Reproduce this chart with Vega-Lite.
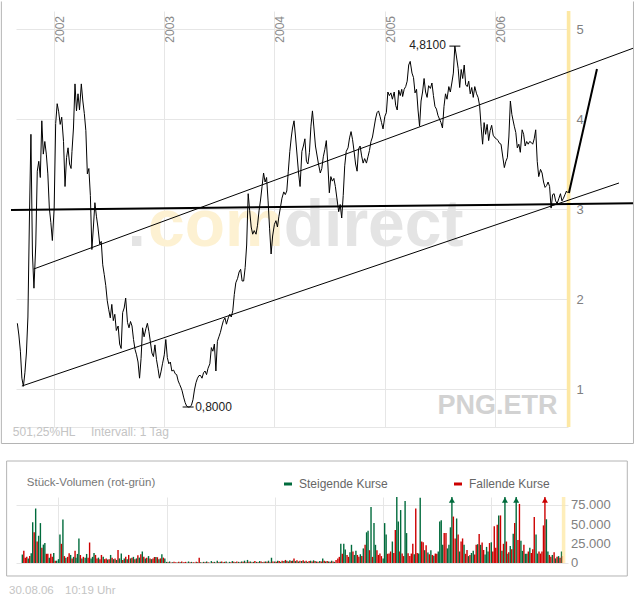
{
"$schema":"https://vega.github.io/schema/vega-lite/v6.json",
"padding":0,
"background":"#ffffff",
"config":{"font":"Liberation Sans","view":{"stroke":null},
"axis":{"gridColor":"#e6e6e6","gridWidth":1,"domain":false,"ticks":false,"title":null,"labelFont":"Liberation Sans","labelColor":"#808080","labelFontSize":13}},
"datasets":{"main":[
{"d":"2001-09-01","p":1.73,"v":11000,"s":"u"},{"d":"2001-09-06","p":1.6,"v":15800,"s":"d"},{"d":"2001-09-11","p":1.42,"v":7000,"s":"d"},{"d":"2001-09-16","p":1.12,"v":8000,"s":"d"},{"d":"2001-09-21","p":1.03,"v":6000,"s":"u"},{"d":"2001-09-26","p":1.18,"v":9000,"s":"d"},
{"d":"2001-10-01","p":1.4,"v":12700,"s":"u"},{"d":"2001-10-06","p":1.8,"v":53000,"s":"u"},{"d":"2001-10-11","p":2.9,"v":40000,"s":"d"},{"d":"2001-10-16","p":3.83,"v":71000,"s":"u"},{"d":"2001-10-21","p":2.5,"v":28000,"s":"d"},{"d":"2001-10-26","p":2.12,"v":35500,"s":"u"},
{"d":"2001-11-01","p":2.6,"v":52000,"s":"u"},{"d":"2001-11-06","p":3.42,"v":20000,"s":"d"},{"d":"2001-11-11","p":3.53,"v":24000,"s":"u"},{"d":"2001-11-16","p":3.35,"v":26000,"s":"u"},{"d":"2001-11-21","p":3.98,"v":12000,"s":"d"},{"d":"2001-11-26","p":3.61,"v":12000,"s":"d"},
{"d":"2001-12-01","p":3.75,"v":7000,"s":"u"},{"d":"2001-12-06","p":3.61,"v":12000,"s":"d"},{"d":"2001-12-11","p":3.39,"v":8000,"s":"d"},{"d":"2001-12-16","p":3.01,"v":13000,"s":"u"},{"d":"2001-12-21","p":2.85,"v":3000,"s":"d"},{"d":"2001-12-26","p":2.65,"v":3000,"s":"u"},
{"d":"2002-01-01","p":3.01,"v":5000,"s":"u"},{"d":"2002-01-06","p":3.95,"v":37000,"s":"u"},{"d":"2002-01-11","p":4.17,"v":25000,"s":"d"},{"d":"2002-01-16","p":4.08,"v":56600,"s":"u"},{"d":"2002-01-21","p":3.94,"v":9000,"s":"d"},{"d":"2002-01-26","p":4.02,"v":7000,"s":"u"},
{"d":"2002-02-01","p":3.75,"v":8000,"s":"d"},{"d":"2002-02-06","p":3.25,"v":12800,"s":"d"},{"d":"2002-02-11","p":3.57,"v":10500,"s":"u"},{"d":"2002-02-16","p":3.68,"v":6000,"s":"d"},{"d":"2002-02-21","p":3.5,"v":8000,"s":"u"},{"d":"2002-02-26","p":3.45,"v":15800,"s":"d"},
{"d":"2002-03-01","p":3.64,"v":7000,"s":"u"},{"d":"2002-03-06","p":3.9,"v":11800,"s":"u"},{"d":"2002-03-11","p":4.39,"v":32000,"s":"u"},{"d":"2002-03-16","p":4.09,"v":10500,"s":"d"},{"d":"2002-03-21","p":4.28,"v":6000,"s":"u"},{"d":"2002-03-26","p":4.1,"v":8000,"s":"d"},
{"d":"2002-04-01","p":4.39,"v":7000,"s":"u"},{"d":"2002-04-06","p":4.2,"v":11800,"s":"u"},{"d":"2002-04-11","p":4.06,"v":7000,"s":"d"},{"d":"2002-04-16","p":3.87,"v":26700,"s":"d"},{"d":"2002-04-21","p":3.39,"v":6000,"s":"u"},{"d":"2002-04-26","p":3.45,"v":8000,"s":"u"},
{"d":"2002-05-01","p":3.15,"v":13000,"s":"u"},{"d":"2002-05-06","p":2.55,"v":10500,"s":"d"},{"d":"2002-05-11","p":2.8,"v":6000,"s":"d"},{"d":"2002-05-16","p":3.07,"v":7000,"s":"u"},{"d":"2002-05-21","p":2.92,"v":5000,"s":"d"},{"d":"2002-05-26","p":2.8,"v":10500,"s":"d"},
{"d":"2002-06-01","p":2.61,"v":8300,"s":"u"},{"d":"2002-06-06","p":2.64,"v":5000,"s":"d"},{"d":"2002-06-11","p":2.38,"v":6000,"s":"d"},{"d":"2002-06-16","p":2.27,"v":4500,"s":"u"},{"d":"2002-06-21","p":2.15,"v":5000,"s":"d"},{"d":"2002-06-26","p":1.98,"v":10500,"s":"u"},
{"d":"2002-07-01","p":1.88,"v":7000,"s":"d"},{"d":"2002-07-06","p":1.79,"v":5000,"s":"u"},{"d":"2002-07-11","p":1.94,"v":6000,"s":"d"},{"d":"2002-07-16","p":1.76,"v":4000,"s":"u"},{"d":"2002-07-21","p":1.83,"v":17000,"s":"d"},{"d":"2002-07-26","p":1.65,"v":6000,"s":"u"},
{"d":"2002-08-01","p":1.7,"v":12300,"s":"u"},{"d":"2002-08-06","p":1.5,"v":4000,"s":"d"},{"d":"2002-08-11","p":1.45,"v":6000,"s":"u"},{"d":"2002-08-16","p":1.85,"v":8000,"s":"d"},{"d":"2002-08-21","p":1.9,"v":5000,"s":"u"},{"d":"2002-08-26","p":2.01,"v":10500,"s":"d"},
{"d":"2002-09-01","p":1.74,"v":6000,"s":"u"},{"d":"2002-09-06","p":1.68,"v":7000,"s":"d"},{"d":"2002-09-11","p":1.75,"v":8000,"s":"u"},{"d":"2002-09-16","p":1.7,"v":5000,"s":"d"},{"d":"2002-09-21","p":1.55,"v":6000,"s":"u"},{"d":"2002-09-26","p":1.44,"v":10000,"s":"d"},
{"d":"2002-10-01","p":1.38,"v":7000,"s":"u"},{"d":"2002-10-06","p":1.3,"v":11400,"s":"d"},{"d":"2002-10-11","p":1.12,"v":15000,"s":"u"},{"d":"2002-10-16","p":1.34,"v":8000,"s":"d"},{"d":"2002-10-21","p":1.68,"v":6000,"s":"u"},{"d":"2002-10-26","p":1.58,"v":7000,"s":"d"},
{"d":"2002-11-01","p":1.67,"v":9000,"s":"u"},{"d":"2002-11-06","p":1.73,"v":6000,"s":"d"},{"d":"2002-11-11","p":1.64,"v":5000,"s":"u"},{"d":"2002-11-16","p":1.52,"v":6000,"s":"d"},{"d":"2002-11-21","p":1.4,"v":7800,"s":"d"},{"d":"2002-11-26","p":1.36,"v":7800,"s":"u"},
{"d":"2002-12-01","p":1.49,"v":7500,"s":"d"},{"d":"2002-12-06","p":1.33,"v":5000,"s":"u"},{"d":"2002-12-11","p":1.23,"v":6000,"s":"d"},{"d":"2002-12-16","p":1.12,"v":11400,"s":"u"},{"d":"2002-12-21","p":1.19,"v":7000,"s":"d"},{"d":"2002-12-26","p":1.28,"v":6000,"s":"u"},
{"d":"2003-01-01","p":1.38,"v":1500,"s":"u"},{"d":"2003-01-06","p":1.55,"v":1000,"s":"d"},{"d":"2003-01-11","p":1.35,"v":2000,"s":"u"},{"d":"2003-01-16","p":1.28,"v":500,"s":"d"},{"d":"2003-01-21","p":1.3,"v":1000,"s":"u"},{"d":"2003-01-26","p":1.2,"v":1500,"s":"d"},
{"d":"2003-02-01","p":1.21,"v":1000,"s":"d"},{"d":"2003-02-06","p":1.17,"v":500,"s":"u"},{"d":"2003-02-11","p":1.16,"v":1500,"s":"d"},{"d":"2003-02-16","p":1.09,"v":1000,"s":"u"},{"d":"2003-02-21","p":1.05,"v":2000,"s":"d"},{"d":"2003-02-26","p":1.01,"v":500,"s":"u"},
{"d":"2003-03-01","p":0.98,"v":1000,"s":"d"},{"d":"2003-03-06","p":0.91,"v":1500,"s":"d"},{"d":"2003-03-11","p":0.85,"v":500,"s":"u"},{"d":"2003-03-16","p":0.81,"v":2000,"s":"u"},{"d":"2003-03-21","p":0.8,"v":1000,"s":"d"},{"d":"2003-03-26","p":0.8,"v":1500,"s":"u"},
{"d":"2003-04-01","p":0.82,"v":1000,"s":"d"},{"d":"2003-04-06","p":0.88,"v":500,"s":"u"},{"d":"2003-04-11","p":0.99,"v":1500,"s":"d"},{"d":"2003-04-16","p":1.07,"v":1000,"s":"u"},{"d":"2003-04-21","p":1.12,"v":7000,"s":"d"},{"d":"2003-04-26","p":1.15,"v":1000,"s":"u"},
{"d":"2003-05-01","p":1.15,"v":500,"s":"d"},{"d":"2003-05-06","p":1.12,"v":1500,"s":"u"},{"d":"2003-05-11","p":1.18,"v":1000,"s":"d"},{"d":"2003-05-16","p":1.2,"v":2000,"s":"u"},{"d":"2003-05-21","p":1.16,"v":1000,"s":"d"},{"d":"2003-05-26","p":1.23,"v":500,"s":"u"},
{"d":"2003-06-01","p":1.28,"v":2500,"s":"u"},{"d":"2003-06-06","p":1.46,"v":1000,"s":"d"},{"d":"2003-06-11","p":1.42,"v":1500,"s":"u"},{"d":"2003-06-16","p":1.5,"v":500,"s":"d"},{"d":"2003-06-21","p":1.2,"v":3000,"s":"u"},{"d":"2003-06-26","p":1.53,"v":1000,"s":"d"},
{"d":"2003-07-01","p":1.58,"v":1500,"s":"u"},{"d":"2003-07-06","p":1.63,"v":2000,"s":"d"},{"d":"2003-07-11","p":1.7,"v":1000,"s":"u"},{"d":"2003-07-16","p":1.76,"v":1500,"s":"d"},{"d":"2003-07-21","p":1.79,"v":2000,"s":"u"},{"d":"2003-07-26","p":1.72,"v":500,"s":"d"},
{"d":"2003-08-01","p":1.79,"v":1500,"s":"u"},{"d":"2003-08-06","p":1.83,"v":1000,"s":"d"},{"d":"2003-08-11","p":1.8,"v":2500,"s":"u"},{"d":"2003-08-16","p":1.87,"v":1500,"s":"d"},{"d":"2003-08-21","p":2.05,"v":1000,"s":"u"},{"d":"2003-08-26","p":2.18,"v":2000,"s":"d"},
{"d":"2003-09-01","p":2.23,"v":1500,"s":"u"},{"d":"2003-09-06","p":2.3,"v":1000,"s":"d"},{"d":"2003-09-11","p":2.33,"v":2000,"s":"u"},{"d":"2003-09-16","p":2.2,"v":1500,"s":"d"},{"d":"2003-09-21","p":2.2,"v":3000,"s":"u"},{"d":"2003-09-26","p":2.35,"v":1000,"s":"d"},
{"d":"2003-10-01","p":2.6,"v":4000,"s":"u"},{"d":"2003-10-06","p":3.17,"v":1500,"s":"d"},{"d":"2003-10-11","p":2.98,"v":2000,"s":"u"},{"d":"2003-10-16","p":2.8,"v":1000,"s":"d"},{"d":"2003-10-21","p":2.72,"v":1500,"s":"u"},{"d":"2003-10-26","p":2.76,"v":2500,"s":"d"},
{"d":"2003-11-01","p":2.72,"v":1500,"s":"u"},{"d":"2003-11-06","p":2.82,"v":1000,"s":"d"},{"d":"2003-11-11","p":2.98,"v":2500,"s":"u"},{"d":"2003-11-16","p":3.1,"v":2000,"s":"d"},{"d":"2003-11-21","p":3.25,"v":1000,"s":"u"},{"d":"2003-11-26","p":3.4,"v":1500,"s":"d"},
{"d":"2003-12-01","p":3.3,"v":2000,"s":"u"},{"d":"2003-12-06","p":3.35,"v":1500,"s":"d"},{"d":"2003-12-11","p":3.09,"v":3000,"s":"u"},{"d":"2003-12-16","p":2.78,"v":1000,"s":"d"},{"d":"2003-12-21","p":2.5,"v":7000,"s":"u"},{"d":"2003-12-26","p":2.7,"v":2000,"s":"d"},
{"d":"2004-01-01","p":2.83,"v":2000,"s":"u"},{"d":"2004-01-06","p":2.87,"v":1500,"s":"d"},{"d":"2004-01-11","p":2.8,"v":3000,"s":"u"},{"d":"2004-01-16","p":2.92,"v":2500,"s":"d"},{"d":"2004-01-21","p":3.02,"v":1500,"s":"u"},{"d":"2004-01-26","p":3.12,"v":3000,"s":"d"},
{"d":"2004-02-01","p":3.19,"v":2500,"s":"u"},{"d":"2004-02-06","p":3.16,"v":4000,"s":"d"},{"d":"2004-02-11","p":3.2,"v":3000,"s":"u"},{"d":"2004-02-16","p":3.42,"v":2000,"s":"d"},{"d":"2004-02-21","p":3.64,"v":3500,"s":"u"},{"d":"2004-02-26","p":3.8,"v":2500,"s":"d"},
{"d":"2004-03-01","p":3.9,"v":3000,"s":"u"},{"d":"2004-03-06","p":3.98,"v":6000,"s":"d"},{"d":"2004-03-11","p":3.8,"v":2500,"s":"u"},{"d":"2004-03-16","p":3.6,"v":3500,"s":"d"},{"d":"2004-03-21","p":3.4,"v":2000,"s":"u"},{"d":"2004-03-26","p":3.25,"v":3000,"s":"d"},
{"d":"2004-04-01","p":3.64,"v":2500,"s":"u"},{"d":"2004-04-06","p":3.7,"v":3500,"s":"d"},{"d":"2004-04-11","p":3.78,"v":2000,"s":"u"},{"d":"2004-04-16","p":3.53,"v":3000,"s":"d"},{"d":"2004-04-21","p":3.5,"v":1500,"s":"u"},{"d":"2004-04-26","p":3.63,"v":2500,"s":"d"},
{"d":"2004-05-01","p":3.92,"v":3000,"s":"u"},{"d":"2004-05-06","p":4.09,"v":2000,"s":"d"},{"d":"2004-05-11","p":3.9,"v":3500,"s":"u"},{"d":"2004-05-16","p":3.7,"v":2500,"s":"d"},{"d":"2004-05-21","p":3.6,"v":2000,"s":"u"},{"d":"2004-05-26","p":3.5,"v":1500,"s":"d"},
{"d":"2004-06-01","p":3.4,"v":2500,"s":"u"},{"d":"2004-06-06","p":3.45,"v":2000,"s":"d"},{"d":"2004-06-11","p":3.58,"v":6000,"s":"u"},{"d":"2004-06-16","p":3.66,"v":3000,"s":"d"},{"d":"2004-06-21","p":3.76,"v":2000,"s":"u"},{"d":"2004-06-26","p":3.5,"v":2500,"s":"d"},
{"d":"2004-07-01","p":3.18,"v":2000,"s":"u"},{"d":"2004-07-06","p":3.36,"v":1500,"s":"d"},{"d":"2004-07-11","p":3.31,"v":3000,"s":"u"},{"d":"2004-07-16","p":3.34,"v":2000,"s":"d"},{"d":"2004-07-21","p":3.25,"v":1500,"s":"u"},{"d":"2004-07-26","p":3.12,"v":4000,"s":"d"},
{"d":"2004-08-01","p":2.97,"v":6000,"s":"d"},{"d":"2004-08-06","p":3.05,"v":8000,"s":"d"},{"d":"2004-08-11","p":2.9,"v":25000,"s":"u"},{"d":"2004-08-16","p":3.15,"v":12000,"s":"d"},{"d":"2004-08-21","p":3.48,"v":25000,"s":"u"},{"d":"2004-08-26","p":3.64,"v":17500,"s":"u"},
{"d":"2004-09-01","p":3.68,"v":10500,"s":"d"},{"d":"2004-09-06","p":3.79,"v":8000,"s":"d"},{"d":"2004-09-11","p":3.86,"v":14000,"s":"u"},{"d":"2004-09-16","p":3.77,"v":23700,"s":"u"},{"d":"2004-09-21","p":3.64,"v":15000,"s":"d"},{"d":"2004-09-26","p":3.5,"v":10500,"s":"u"},
{"d":"2004-10-01","p":3.42,"v":15800,"s":"u"},{"d":"2004-10-06","p":3.67,"v":10500,"s":"d"},{"d":"2004-10-11","p":3.7,"v":8000,"s":"d"},{"d":"2004-10-16","p":3.59,"v":11400,"s":"u"},{"d":"2004-10-21","p":3.51,"v":9000,"s":"d"},{"d":"2004-10-26","p":3.56,"v":19000,"s":"u"},
{"d":"2004-11-01","p":3.51,"v":23700,"s":"d"},{"d":"2004-11-06","p":3.58,"v":40000,"s":"u"},{"d":"2004-11-11","p":3.65,"v":42000,"s":"u"},{"d":"2004-11-16","p":3.75,"v":16700,"s":"d"},{"d":"2004-11-21","p":3.8,"v":73000,"s":"u"},{"d":"2004-11-26","p":3.9,"v":8000,"s":"d"},
{"d":"2004-12-01","p":4.0,"v":52000,"s":"u"},{"d":"2004-12-06","p":4.07,"v":23700,"s":"u"},{"d":"2004-12-11","p":4.09,"v":16700,"s":"d"},{"d":"2004-12-16","p":4.03,"v":10500,"s":"d"},{"d":"2004-12-21","p":3.96,"v":12300,"s":"d"},{"d":"2004-12-26","p":3.89,"v":9000,"s":"d"},
{"d":"2005-01-01","p":4.03,"v":6000,"s":"u"},{"d":"2005-01-06","p":4.07,"v":52000,"s":"u"},{"d":"2005-01-11","p":4.3,"v":37000,"s":"u"},{"d":"2005-01-16","p":4.26,"v":12000,"s":"d"},{"d":"2005-01-21","p":4.29,"v":12300,"s":"d"},{"d":"2005-01-26","p":4.22,"v":15000,"s":"d"},
{"d":"2005-02-01","p":4.3,"v":28000,"s":"u"},{"d":"2005-02-06","p":4.15,"v":13000,"s":"d"},{"d":"2005-02-11","p":4.1,"v":43000,"s":"d"},{"d":"2005-02-16","p":4.32,"v":86000,"s":"u"},{"d":"2005-02-21","p":4.26,"v":54000,"s":"u"},{"d":"2005-02-26","p":4.33,"v":15000,"s":"d"},
{"d":"2005-03-01","p":4.25,"v":69000,"s":"u"},{"d":"2005-03-06","p":4.33,"v":12300,"s":"d"},{"d":"2005-03-11","p":4.36,"v":9000,"s":"d"},{"d":"2005-03-16","p":4.42,"v":80700,"s":"u"},{"d":"2005-03-21","p":4.6,"v":39000,"s":"u"},{"d":"2005-03-26","p":4.64,"v":12700,"s":"d"},
{"d":"2005-04-01","p":4.51,"v":9000,"s":"d"},{"d":"2005-04-06","p":4.46,"v":12300,"s":"d"},{"d":"2005-04-11","p":4.29,"v":25000,"s":"d"},{"d":"2005-04-16","p":4.33,"v":11400,"s":"u"},{"d":"2005-04-21","p":4.1,"v":71000,"s":"d"},{"d":"2005-04-26","p":3.92,"v":13000,"s":"d"},
{"d":"2005-05-01","p":4.2,"v":12300,"s":"u"},{"d":"2005-05-06","p":4.3,"v":85000,"s":"u"},{"d":"2005-05-11","p":4.45,"v":28000,"s":"d"},{"d":"2005-05-16","p":4.3,"v":27000,"s":"d"},{"d":"2005-05-21","p":4.24,"v":16700,"s":"u"},{"d":"2005-05-26","p":4.37,"v":23000,"s":"d"},
{"d":"2005-06-01","p":4.34,"v":13600,"s":"u"},{"d":"2005-06-06","p":4.4,"v":11400,"s":"d"},{"d":"2005-06-11","p":4.26,"v":16700,"s":"u"},{"d":"2005-06-16","p":4.14,"v":10500,"s":"d"},{"d":"2005-06-21","p":4.11,"v":9600,"s":"u"},{"d":"2005-06-26","p":4.04,"v":12300,"s":"d"},
{"d":"2005-07-01","p":4.0,"v":12000,"s":"d"},{"d":"2005-07-06","p":3.96,"v":15000,"s":"u"},{"d":"2005-07-11","p":3.9,"v":54000,"s":"u"},{"d":"2005-07-16","p":4.14,"v":55700,"s":"u"},{"d":"2005-07-21","p":4.28,"v":23700,"s":"u"},{"d":"2005-07-26","p":4.22,"v":39000,"s":"d"},
{"d":"2005-08-01","p":4.36,"v":39000,"s":"d"},{"d":"2005-08-06","p":4.3,"v":19000,"s":"u"},{"d":"2005-08-11","p":4.4,"v":23700,"s":"u"},{"d":"2005-08-16","p":4.51,"v":46500,"s":"u"},{"d":"2005-08-21","p":4.81,"v":150000,"s":"u"},{"d":"2005-08-26","p":4.7,"v":60500,"s":"d"},
{"d":"2005-09-01","p":4.56,"v":32000,"s":"d"},{"d":"2005-09-06","p":4.35,"v":58000,"s":"u"},{"d":"2005-09-11","p":4.55,"v":37000,"s":"d"},{"d":"2005-09-16","p":4.45,"v":15000,"s":"u"},{"d":"2005-09-21","p":4.6,"v":28000,"s":"d"},{"d":"2005-09-26","p":4.38,"v":32000,"s":"d"},
{"d":"2005-10-01","p":4.36,"v":23700,"s":"u"},{"d":"2005-10-06","p":4.42,"v":12000,"s":"d"},{"d":"2005-10-11","p":4.28,"v":17000,"s":"d"},{"d":"2005-10-16","p":4.35,"v":9000,"s":"u"},{"d":"2005-10-21","p":4.24,"v":10500,"s":"d"},{"d":"2005-10-26","p":4.36,"v":13000,"s":"u"},
{"d":"2005-11-01","p":4.28,"v":15800,"s":"u"},{"d":"2005-11-06","p":4.24,"v":11000,"s":"d"},{"d":"2005-11-11","p":4.15,"v":23700,"s":"d"},{"d":"2005-11-16","p":3.92,"v":24500,"s":"u"},{"d":"2005-11-21","p":3.72,"v":37700,"s":"d"},{"d":"2005-11-26","p":3.96,"v":23700,"s":"u"},
{"d":"2005-12-01","p":3.83,"v":26700,"s":"d"},{"d":"2005-12-06","p":3.94,"v":17000,"s":"d"},{"d":"2005-12-11","p":3.76,"v":11000,"s":"u"},{"d":"2005-12-16","p":3.87,"v":21000,"s":"u"},{"d":"2005-12-21","p":3.93,"v":15000,"s":"u"},{"d":"2005-12-26","p":3.82,"v":26000,"s":"d"},
{"d":"2006-01-01","p":3.79,"v":27000,"s":"u"},{"d":"2006-01-06","p":3.78,"v":15000,"s":"d"},{"d":"2006-01-11","p":3.76,"v":48000,"s":"d"},{"d":"2006-01-16","p":3.73,"v":20000,"s":"d"},{"d":"2006-01-21","p":3.72,"v":50000,"s":"d"},{"d":"2006-01-26","p":3.6,"v":62000,"s":"u"},
{"d":"2006-02-01","p":3.46,"v":62000,"s":"d"},{"d":"2006-02-06","p":3.53,"v":16000,"s":"u"},{"d":"2006-02-11","p":3.57,"v":25000,"s":"d"},{"d":"2006-02-16","p":3.8,"v":150000,"s":"u"},{"d":"2006-02-21","p":4.2,"v":28000,"s":"d"},{"d":"2006-02-26","p":4.05,"v":12000,"s":"u"},
{"d":"2006-03-01","p":4.0,"v":14000,"s":"d"},{"d":"2006-03-06","p":3.92,"v":22000,"s":"u"},{"d":"2006-03-11","p":3.85,"v":18000,"s":"d"},{"d":"2006-03-16","p":3.68,"v":38000,"s":"u"},{"d":"2006-03-21","p":3.72,"v":52000,"s":"d"},{"d":"2006-03-26","p":3.63,"v":150000,"s":"u"},
{"d":"2006-04-01","p":3.88,"v":30000,"s":"d"},{"d":"2006-04-06","p":3.83,"v":77000,"s":"d"},{"d":"2006-04-11","p":3.7,"v":29000,"s":"u"},{"d":"2006-04-16","p":3.75,"v":15800,"s":"u"},{"d":"2006-04-21","p":3.72,"v":23700,"s":"d"},{"d":"2006-04-26","p":3.75,"v":12000,"s":"u"},
{"d":"2006-05-01","p":3.74,"v":12000,"s":"u"},{"d":"2006-05-06","p":3.72,"v":15000,"s":"d"},{"d":"2006-05-11","p":3.78,"v":20000,"s":"u"},{"d":"2006-05-16","p":3.88,"v":13000,"s":"d"},{"d":"2006-05-21","p":3.53,"v":18000,"s":"d"},{"d":"2006-05-26","p":3.36,"v":60000,"s":"d"},
{"d":"2006-06-01","p":3.44,"v":37000,"s":"u"},{"d":"2006-06-06","p":3.4,"v":12300,"s":"u"},{"d":"2006-06-11","p":3.3,"v":15000,"s":"d"},{"d":"2006-06-16","p":3.24,"v":12300,"s":"d"},{"d":"2006-06-21","p":3.26,"v":15000,"s":"d"},{"d":"2006-06-26","p":3.3,"v":49000,"s":"d"},
{"d":"2006-07-01","p":3.25,"v":150000,"s":"d"},{"d":"2006-07-06","p":3.01,"v":57000,"s":"u"},{"d":"2006-07-11","p":3.16,"v":15000,"s":"u"},{"d":"2006-07-16","p":3.17,"v":10500,"s":"d"},{"d":"2006-07-21","p":3.09,"v":8000,"s":"d"},{"d":"2006-07-26","p":3.06,"v":10500,"s":"u"},
{"d":"2006-08-01","p":3.12,"v":14000,"s":"d"},{"d":"2006-08-06","p":3.17,"v":6000,"s":"u"},{"d":"2006-08-11","p":3.09,"v":8000,"s":"d"},{"d":"2006-08-16","p":3.12,"v":9000,"s":"u"},{"d":"2006-08-21","p":3.16,"v":7000,"s":"d"},{"d":"2006-08-26","p":3.2,"v":15000,"s":"u"},
{"d":"2006-08-29","p":3.18,"v":9000,"s":"d"}
]},
"spacing":70,
"bounds":"flush",
"resolve":{"scale":{"x":"independent","y":"independent","color":"independent"},"legend":{"color":"independent"}},
"vconcat":[
{"width":552,"height":416,
"layer":[
{"data":{"values":[{}]},"mark":{"type":"text","text":".","font":"Liberation Sans","fontWeight":"bold","fontSize":66,"color":"#e4e4e4","align":"right","baseline":"alphabetic"},"encoding":{"x":{"datum":{"year":2002,"month":11,"date":1}},"y":{"datum":2.589}}},
{"data":{"values":[{}]},"mark":{"type":"text","text":"com","font":"Liberation Sans","fontWeight":"bold","fontSize":66,"color":"#fdf1d2","align":"right","baseline":"alphabetic"},"encoding":{"x":{"datum":{"year":2004,"month":2,"date":1}},"y":{"datum":2.589}}},
{"data":{"values":[{}]},"mark":{"type":"text","text":"direct","font":"Liberation Sans","fontWeight":"bold","fontSize":66,"color":"#e4e4e4","align":"left","baseline":"alphabetic"},"encoding":{"x":{"datum":{"year":2004,"month":2,"date":1}},"y":{"datum":2.589}}},
{"data":{"values":[{}]},"mark":{"type":"rect","color":"#fde8a4","clip":false},"encoding":{"x":{"datum":{"year":2006,"month":8,"date":27}},"x2":{"datum":{"year":2006,"month":9,"date":8}}}},
{"data":{"name":"main"},"mark":{"type":"line","color":"#000000","strokeWidth":1},
"encoding":{
"x":{"field":"d","type":"temporal","scale":{"domain":[{"year":2001,"month":8,"date":27,"hours":12},{"year":2006,"month":8,"date":31}],"nice":false},
"axis":{"orient":"bottom","values":[{"year":2002,"month":1,"date":1},{"year":2003,"month":1,"date":1},{"year":2004,"month":1,"date":1},{"year":2005,"month":1,"date":1},{"year":2006,"month":1,"date":1}],"labels":false,"grid":true,"domain":true,"domainColor":"#e6e6e6","ticks":false,"title":null}},
"y":{"field":"p","type":"quantitative","scale":{"domain":[0.5778,5.2],"nice":false,"zero":false},
"axis":{"orient":"right","values":[1,2,3,4,5],"format":"d","labelPadding":8,"grid":true,"title":null}}}},
{"data":{"values":[{"k":"a","d":"2001-10-25","p":2.333},{"k":"a","d":"2007-04-06","p":4.789},{"k":"b","d":"2001-09-16","p":1.033},{"k":"b","d":"2007-02-16","p":3.289}]},
"mark":{"type":"line","color":"#000000","strokeWidth":1,"clip":false},"encoding":{"x":{"field":"d","type":"temporal"},"y":{"field":"p","type":"quantitative"},"detail":{"field":"k"}}},
{"data":{"values":[{"k":"c","d":"2001-08-11","p":2.99},{"k":"c","d":"2007-04-06","p":3.063},{"k":"e","d":"2006-09-03","p":3.178},{"k":"e","d":"2006-12-05","p":4.556}]},
"mark":{"type":"line","color":"#000000","strokeWidth":2,"clip":false},"encoding":{"x":{"field":"d","type":"temporal"},"y":{"field":"p","type":"quantitative"},"detail":{"field":"k"}}},
{"data":{"values":[{"d":"2005-08-21","p":4.81},{"d":"2003-03-21","p":0.8}]},
"mark":{"type":"tick","orient":"horizontal","size":11,"thickness":1,"color":"#000000","opacity":1},"encoding":{"x":{"field":"d","type":"temporal"},"y":{"field":"p","type":"quantitative"}}},
{"data":{"values":[{"d":"2005-08-21","p":4.81,"t":"4,8100"}]},
"mark":{"type":"text","align":"right","baseline":"middle","dx":-9,"dy":-1,"fontSize":12,"color":"#222222"},"encoding":{"x":{"field":"d","type":"temporal"},"y":{"field":"p","type":"quantitative"},"text":{"field":"t"}}},
{"data":{"values":[{"d":"2003-03-21","p":0.8,"t":"0,8000"}]},
"mark":{"type":"text","align":"left","baseline":"middle","dx":7,"fontSize":12,"color":"#222222"},"encoding":{"x":{"field":"d","type":"temporal"},"y":{"field":"p","type":"quantitative"},"text":{"field":"t"}}},
{"data":{"values":[{"d":"2002-01-01","t":"2002"},{"d":"2003-01-01","t":"2003"},{"d":"2004-01-01","t":"2004"},{"d":"2005-01-01","t":"2005"},{"d":"2006-01-01","t":"2006"}]},
"mark":{"type":"text","angle":270,"align":"right","baseline":"top","dx":-5,"dy":1,"fontSize":12,"color":"#8a8a8a"},"encoding":{"x":{"field":"d","type":"temporal"},"y":{"datum":5.2},"text":{"field":"t"}}},
{"data":{"values":[{}]},"mark":{"type":"text","text":"PNG.ETR","fontWeight":"bold","fontSize":27,"color":"#d2d2d2","align":"right","baseline":"alphabetic"},"encoding":{"x":{"datum":{"year":2006,"month":7,"date":27}},"y":{"datum":0.719}}},
{"data":{"values":[{}]},"mark":{"type":"text","text":"501,25%HL","fontSize":12,"color":"#c4c4c4","align":"left","baseline":"middle","clip":false},"encoding":{"x":{"datum":{"year":2001,"month":8,"date":17}},"y":{"datum":0.522}}},
{"data":{"values":[{}]},"mark":{"type":"text","text":"Intervall: 1 Tag","fontSize":12,"color":"#c4c4c4","align":"left","baseline":"middle"},"encoding":{"x":{"datum":{"year":2002,"month":5,"date":3}},"y":{"datum":0.522}}},
{"data":{"values":[{}]},"mark":{"type":"rule","color":"#b4b4b4","strokeWidth":1,"clip":false},"encoding":{"x":{"datum":{"year":2001,"month":7,"date":10}},"y":{"datum":5.3056},"y2":{"datum":0.3944}}},
{"data":{"values":[{}]},"mark":{"type":"rule","color":"#b4b4b4","strokeWidth":1,"clip":false},"encoding":{"x":{"datum":{"year":2007,"month":4,"date":5}},"y":{"datum":5.3056},"y2":{"datum":0.3944}}},
{"data":{"values":[{}]},"mark":{"type":"rule","color":"#b4b4b4","strokeWidth":1,"clip":false},"encoding":{"x":{"datum":{"year":2001,"month":7,"date":10}},"x2":{"datum":{"year":2007,"month":4,"date":5}},"y":{"datum":0.3944}}}
]},
{"width":552,"height":66,
"layer":[
{"data":{"name":"main"},"mark":{"type":"bar","size":1.4,"clip":true},
"encoding":{
"x":{"field":"d","type":"temporal","scale":{"domain":[{"year":2001,"month":8,"date":27,"hours":12},{"year":2006,"month":8,"date":31}],"nice":false},
"axis":{"values":[{"year":2002,"month":1,"date":1},{"year":2003,"month":1,"date":1},{"year":2004,"month":1,"date":1},{"year":2005,"month":1,"date":1},{"year":2006,"month":1,"date":1}],"labels":false,"grid":true,"domain":false,"ticks":false,"title":null}},
"y":{"field":"v","type":"quantitative","scale":{"domain":[0,86000],"nice":false,"zero":false},
"axis":{"orient":"right","values":[0,12500,25000,37500,50000,62500,75000],"labels":false,"grid":true,"title":null}},
"color":{"field":"s","type":"nominal","scale":{"domain":["u","d"],"range":["#006b3c","#cc0000"]},
"legend":{"orient":"none","legendX":266,"legendY":-19,"direction":"horizontal","title":null,"labelExpr":"datum.label == 'u' ? 'Steigende Kurse' : 'Fallende Kurse'","symbolType":"M-1,-0.375H1V0.375H-1Z","symbolSize":64,"symbolStrokeWidth":0,"labelFontSize":12,"labelColor":"#666666","labelOffset":5,"columnPadding":64,"padding":0,"labelFont":"Liberation Sans"}}}},
{"data":{"values":[{"g":0,"t":"0"},{"g":25000,"t":"25.000"},{"g":50000,"t":"50.000"},{"g":75000,"t":"75.000"}]},
"mark":{"type":"text","align":"left","baseline":"middle","dx":8,"fontSize":13,"color":"#808080","clip":false},
"encoding":{"x":{"datum":{"year":2006,"month":8,"date":31}},"y":{"field":"g","type":"quantitative"},"text":{"field":"t"}}},
{"data":{"name":"main"},"transform":[{"filter":"datum.v > 86000"}],"mark":{"type":"point","shape":"triangle-up","filled":true,"size":36,"opacity":1,"clip":false},
"encoding":{"x":{"field":"d","type":"temporal"},"y":{"datum":82000},"color":{"field":"s","type":"nominal"}}},
{"data":{"values":[{}]},"mark":{"type":"rect","color":"#fde8a4","opacity":0.75,"clip":false},"encoding":{"x":{"datum":{"year":2006,"month":8,"date":27}},"x2":{"datum":{"year":2006,"month":9,"date":8}}}},
{"data":{"values":[{}]},"mark":{"type":"text","text":"Stück-Volumen (rot-grün)","fontSize":11.5,"color":"#777777","align":"left","baseline":"middle"},"encoding":{"x":{"datum":{"year":2001,"month":9,"date":16}},"y":{"datum":104242}}},
{"data":{"values":[{}]},"mark":{"type":"text","text":"30.08.06","fontSize":11.5,"color":"#c4c4c4","align":"left","baseline":"middle"},"encoding":{"x":{"datum":{"year":2001,"month":7,"date":18}},"y":{"datum":-36485}}},
{"data":{"values":[{}]},"mark":{"type":"text","text":"10:19 Uhr","fontSize":11.5,"color":"#c4c4c4","align":"left","baseline":"middle"},"encoding":{"x":{"datum":{"year":2002,"month":1,"date":23}},"y":{"datum":-36485}}},
{"data":{"values":[{}]},"mark":{"type":"rule","color":"#b4b4b4","strokeWidth":1,"clip":false},"encoding":{"x":{"datum":{"year":2001,"month":7,"date":10}},"y":{"datum":132909},"y2":{"datum":-16939}}},
{"data":{"values":[{}]},"mark":{"type":"rule","color":"#b4b4b4","strokeWidth":1,"clip":false},"encoding":{"x":{"datum":{"year":2007,"month":4,"date":5}},"y":{"datum":132909},"y2":{"datum":-16939}}},
{"data":{"values":[{}]},"mark":{"type":"rule","color":"#b4b4b4","strokeWidth":1,"clip":false},"encoding":{"x":{"datum":{"year":2001,"month":7,"date":10}},"x2":{"datum":{"year":2007,"month":4,"date":5}},"y":{"datum":132909}}},
{"data":{"values":[{}]},"mark":{"type":"rule","color":"#b4b4b4","strokeWidth":1,"clip":false},"encoding":{"x":{"datum":{"year":2001,"month":7,"date":10}},"x2":{"datum":{"year":2007,"month":4,"date":5}},"y":{"datum":-16939}}}
]}
]
}
